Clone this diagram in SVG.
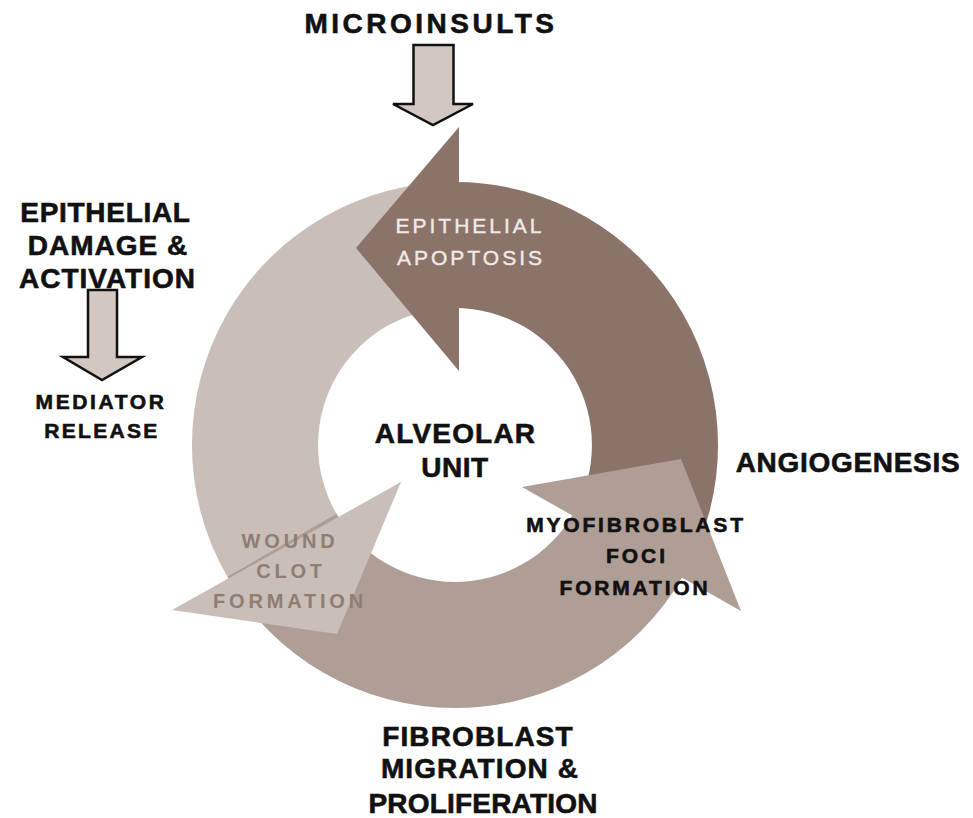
<svg xmlns="http://www.w3.org/2000/svg" width="973" height="818" viewBox="0 0 973 818">
<style>
.h{font-family:"Liberation Sans",Arial,sans-serif;font-weight:bold;fill:#111;stroke:#111;stroke-width:0.6px;text-anchor:middle}
.big{font-size:28px}
.sm{font-size:21px}
.inw{font-family:"Liberation Sans",Arial,sans-serif;font-size:21px;fill:#F1EAE6;stroke:#F1EAE6;stroke-width:0.4px;text-anchor:middle;letter-spacing:3px}
.gr{font-family:"Liberation Sans",Arial,sans-serif;font-weight:bold;font-size:20px;fill:#8F7D74;text-anchor:middle;letter-spacing:3.8px}
.dark{fill:#8B7369}
.mid{fill:#AF9E96}
.lite{fill:#C9BEB8}
.blk{fill:#D2C7C1;stroke:#111;stroke-width:2.5;stroke-linejoin:miter}
</style>
<rect width="973" height="818" fill="#FFFFFF"/>
<g id="cycle">
  <g id="bodies">
    <path class="dark" d="M455,182 A263,263 0 0 1 682.8,576.5 L573.6,513.5 A137,137 0 0 0 455,308 Z"/>
    <path class="lite" d="M455,182 A263,263 0 0 0 227.2,576.5 L336.4,513.5 A137,137 0 0 1 455,308 Z"/>
    <path class="mid" d="M227.2,576.5 A263,263 0 0 0 682.8,576.5 L573.6,513.5 A137,137 0 0 1 336.4,513.5 Z"/>
  </g>
  <g id="node-epithelial-apoptosis">
    <polygon class="dark" points="459,127 356,248 459,371"/>
    <text class="inw" x="470" y="233">EPITHELIAL</text>
    <text class="inw" x="471" y="265">APOPTOSIS</text>
  </g>
  <g id="node-wound-clot">
    <polygon class="lite" points="401,482 172,610 337,634"/>
    <text class="gr" x="290" y="548">WOUND</text>
    <text class="gr" x="291" y="578">CLOT</text>
    <text class="gr" x="290" y="608">FORMATION</text>
  </g>
  <g id="node-myofibroblast">
    <polygon class="mid" points="522,487 681,459 741,611"/>
    <text class="h sm" x="636" y="532" style="letter-spacing:2.8px">MYOFIBROBLAST</text>
    <text class="h sm" x="637" y="563" style="letter-spacing:3px">FOCI</text>
    <text class="h sm" x="635" y="595" style="letter-spacing:2.8px">FORMATION</text>
  </g>
</g>
<g id="connectors">
  <polygon class="blk" points="413.5,45 453.5,45 453.5,104 473,104 433,125 393,104 413.5,104"/>
  <polygon class="blk" points="88,290 117,290 117,357 142,357 102,380 63,357 88,357"/>
</g>
<g id="node-microinsults">
  <text class="h big" x="431" y="33" style="letter-spacing:3.5px">MICROINSULTS</text>
</g>
<g id="node-epithelial-damage">
  <text class="h big" x="105.5" y="222" style="letter-spacing:0.7px">EPITHELIAL</text>
  <text class="h big" x="108" y="255" style="letter-spacing:1px">DAMAGE &amp;</text>
  <text class="h big" x="107.5" y="288" style="letter-spacing:1px">ACTIVATION</text>
</g>
<g id="node-mediator">
  <text class="h sm" x="101" y="409" style="letter-spacing:2.6px">MEDIATOR</text>
  <text class="h sm" x="102" y="438" style="letter-spacing:2.3px">RELEASE</text>
</g>
<g id="node-alveolar">
  <text class="h big" x="455.5" y="443" style="letter-spacing:1.2px">ALVEOLAR</text>
  <text class="h big" x="455" y="477" style="letter-spacing:0.5px">UNIT</text>
</g>
<g id="node-angiogenesis">
  <text class="h big" x="848" y="472" style="letter-spacing:0.7px">ANGIOGENESIS</text>
</g>
<g id="node-fibroblast">
  <text class="h big" x="478" y="746" style="letter-spacing:1.1px">FIBROBLAST</text>
  <text class="h big" x="480" y="778" style="letter-spacing:1.1px">MIGRATION &amp;</text>
  <text class="h big" x="483" y="813" style="letter-spacing:0.2px">PROLIFERATION</text>
</g>
</svg>
